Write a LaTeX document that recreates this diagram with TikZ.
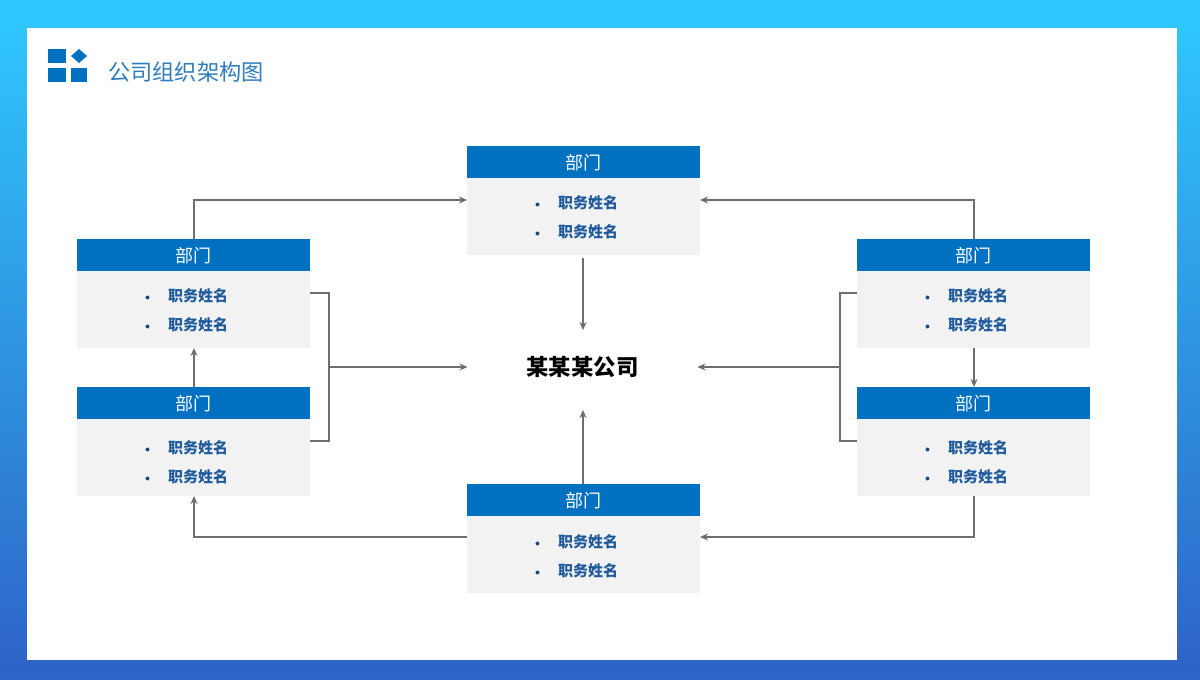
\documentclass[tikz,border=0pt]{standalone}
\usepackage{fontspec}
\setmainfont{Noto Sans CJK SC}
\usepackage{xcolor}
\usepackage{tikz}
\usetikzlibrary{positioning,arrows.meta,shapes.geometric}
\definecolor{deptblue}{HTML}{0070C0}
\definecolor{deptgray}{HTML}{F2F2F2}
\definecolor{stafftext}{HTML}{1F5A9B}
\definecolor{titletext}{HTML}{2E7CBB}
\definecolor{linegray}{HTML}{6E6E6E}
\definecolor{bgtop}{HTML}{2FC9FF}
\definecolor{bgbottom}{HTML}{2E62C6}
\newcommand{\staffline}[1]{\raisebox{-#1}[0pt][0pt]{\makebox[23pt][l]{\raisebox{1pt}{\fontsize{10}{10}\selectfont\color{stafftext!80!black}$\bullet$}}\textbf{职务姓名}}}
\newcommand{\stafflist}[1][6.5pt]{\hspace*{68pt}\staffline{#1}\\\hspace*{68pt}\staffline{#1}}

\begin{document}
\begin{tikzpicture}[
    x=1pt, y=-1pt,
    node distance=0pt,
    head/.style={fill=deptblue, text=white, minimum width=233pt, minimum height=32pt, inner sep=0pt, outer sep=0pt, text height=18pt, text depth=3pt, font=\fontsize{18}{20}\selectfont},
    staff/.style={fill=deptgray, text=stafftext, text width=233pt, minimum height=77pt, inner sep=0pt, outer sep=0pt, align=left, font=\fontsize{15}{29}\selectfont},
    arr/.style={-{Stealth[length=8pt,width=7pt]}, draw=linegray, line width=2pt},
    lin/.style={draw=linegray, line width=2pt}
  ]
    \useasboundingbox (0,0) rectangle (1200,680);
    \shade[top color=bgtop, bottom color=bgbottom] (0,0) rectangle (1200,680);
    \fill[white] (27,28) rectangle (1177,660);
    % logo and title
    \fill[deptblue] (48,49) rectangle (66,63);
    \fill[deptblue] (48,68) rectangle (66,82);
    \fill[deptblue] (71,68) rectangle (87,82);
    \fill[deptblue] (79,49) -- (87,56) -- (79,63) -- (71,56) -- cycle;
    \node[anchor=west, inner sep=0pt, text=titletext, font=\fontsize{22.2}{24}\selectfont] (title) at (108,72) {公司组织架构图};

    \node[minimum width=230pt, minimum height=74pt, inner sep=0pt, outer sep=0pt, font=\fontsize{22.4}{24}\selectfont\bfseries] (co) at (582.5,367) {某某某公司};

    \node[head] (toph) at (583.5,162) {部门};
    \node[staff, below=of toph] (topb) {\stafflist};
    \node[head] (lefth) at (193.5,255) {部门};
    \node[staff, below=of lefth] (leftb) {\stafflist};
    \node[head] (lowlefth) at (193.5,403) {部门};
    \node[staff, below=of lowlefth] (lowleftb) {\stafflist[10pt]};
    \node[head] (righth) at (973.5,255) {部门};
    \node[staff, below=of righth] (rightb) {\stafflist};
    \node[head] (lowrighth) at (973.5,403) {部门};
    \node[staff, below=of lowrighth] (lowrightb) {\stafflist[10pt]};
    \node[head] (both) at (583.5,500) {部门};
    \node[staff, below=of both] (botb) {\stafflist[7.5pt]};

    \coordinate (ljoin) at (329,367);
    \coordinate (rjoin) at (840,367);

    \draw[arr] ([xshift=.5pt]lefth.north) |- ([yshift=16.5pt]topb.west);
    \draw[arr] ([xshift=.5pt]righth.north) |- ([yshift=16.5pt]topb.east);
    \draw[arr] ([xshift=.5pt]lowlefth.north) -- ([xshift=.5pt]leftb.south);
    \draw[arr] ([xshift=.5pt]rightb.south) -- ([xshift=.5pt]lowrighth.north);
    \draw[arr, shorten <=3pt] ([xshift=-.5pt]topb.south) -- ([xshift=.5pt]co.north);
    \draw[arr, shorten >=6pt] ([xshift=-.5pt]both.north) -- ([xshift=.5pt]co.south);
    \draw[arr] (botb.west |- 0,537) -| ([xshift=.5pt]lowleftb.south);
    \draw[arr] ([xshift=.5pt]lowrightb.south) |- (botb.east |- 0,537);
    \draw[lin] ([yshift=16.5pt]leftb.east) -| (ljoin) |- ([yshift=16.5pt]lowleftb.east);
    \draw[lin] ([yshift=16.5pt]rightb.west) -| (rjoin) |- ([yshift=16.5pt]lowrightb.west);
    \draw[arr] (ljoin) -- (co.west);
    \draw[arr] (rjoin) -- (co.east);
  \end{tikzpicture}
\end{document}
